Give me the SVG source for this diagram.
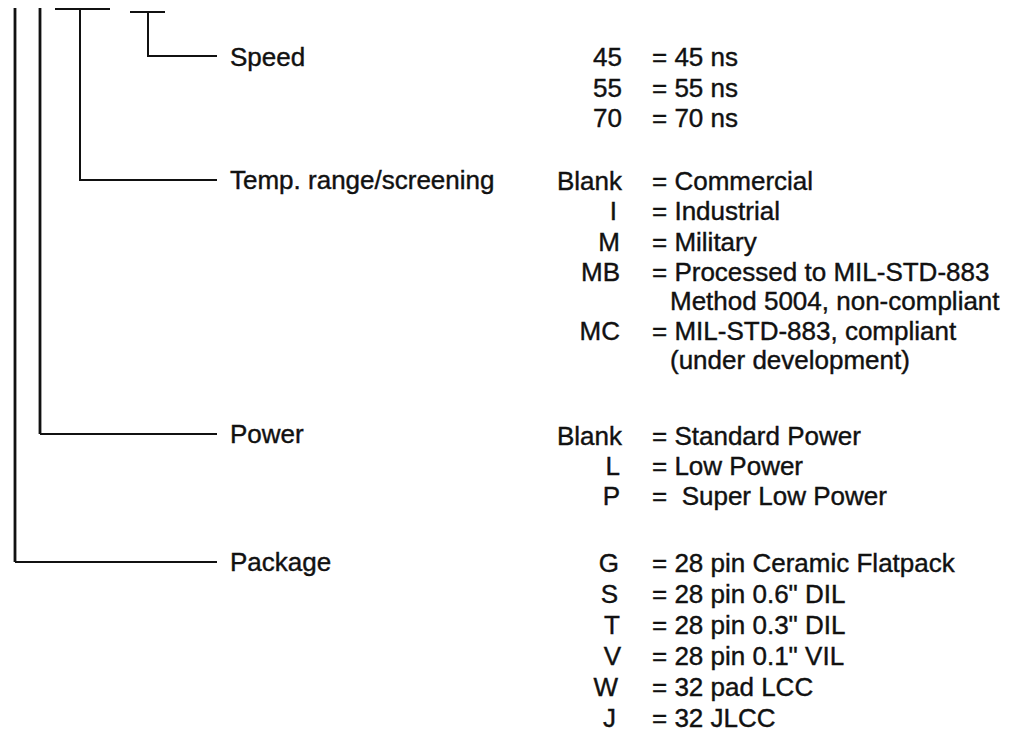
<svg xmlns="http://www.w3.org/2000/svg" width="1025" height="735" viewBox="0 0 1025 735">
<style>
.ln{fill:none;stroke:#111;stroke-width:2}
.lt{fill:none;stroke:#111;stroke-width:2.8}
text{font-family:"Liberation Sans",Arial,sans-serif;font-size:26px;fill:#111;stroke:#111;stroke-width:0.4}
.r{text-anchor:end}
</style>
<rect width="1025" height="735" fill="#fff"/>
<g id="connectors">
<path class="lt" d="M15 8 V562"/>
<path class="ln" d="M15 562 H217"/>
<path class="lt" d="M40 8 V434"/>
<path class="ln" d="M40 434 H217"/>
<path class="ln" d="M55 9 H110 M80 9 V180 H217"/>
<path class="ln" d="M130 12 H165 M148 12 V56 H217"/>
</g>
<g id="speed">
<text x="230" y="66">Speed</text>
<text class="r" x="622" y="66">45</text><text x="652" y="66">= 45 ns</text>
<text class="r" x="622" y="97">55</text><text x="652" y="97">= 55 ns</text>
<text class="r" x="622" y="127">70</text><text x="652" y="127">= 70 ns</text>
</g>
<g id="temp">
<text x="230" y="189">Temp. range/screening</text>
<text class="r" x="622" y="190">Blank</text><text x="652" y="190">= Commercial</text>
<text class="r" x="617" y="220">I</text><text x="652" y="220">= Industrial</text>
<text class="r" x="620" y="251">M</text><text x="652" y="251">= Military</text>
<text class="r" x="620" y="281">MB</text><text x="652" y="281">= Processed to MIL-STD-883</text>
<text x="670" y="310">Method 5004, non-compliant</text>
<text class="r" x="620" y="340">MC</text><text x="652" y="340">= MIL-STD-883, compliant</text>
<text x="670" y="369">(under development)</text>
</g>
<g id="power">
<text x="230" y="443">Power</text>
<text class="r" x="622" y="445">Blank</text><text x="652" y="445">= Standard Power</text>
<text class="r" x="620" y="475">L</text><text x="652" y="475">= Low Power</text>
<text class="r" x="620" y="505">P</text><text x="652" y="505" xml:space="preserve">=  Super Low Power</text>
</g>
<g id="package">
<text x="230" y="571">Package</text>
<text class="r" x="619" y="572">G</text><text x="652" y="572">= 28 pin Ceramic Flatpack</text>
<text class="r" x="618" y="603">S</text><text x="652" y="603">= 28 pin 0.6" DIL</text>
<text class="r" x="620" y="634">T</text><text x="652" y="634">= 28 pin 0.3" DIL</text>
<text class="r" x="621" y="665">V</text><text x="652" y="665">= 28 pin 0.1" VIL</text>
<text class="r" x="618" y="696">W</text><text x="652" y="696">= 32 pad LCC</text>
<text class="r" x="616" y="727">J</text><text x="652" y="727">= 32 JLCC</text>
</g>
</svg>
